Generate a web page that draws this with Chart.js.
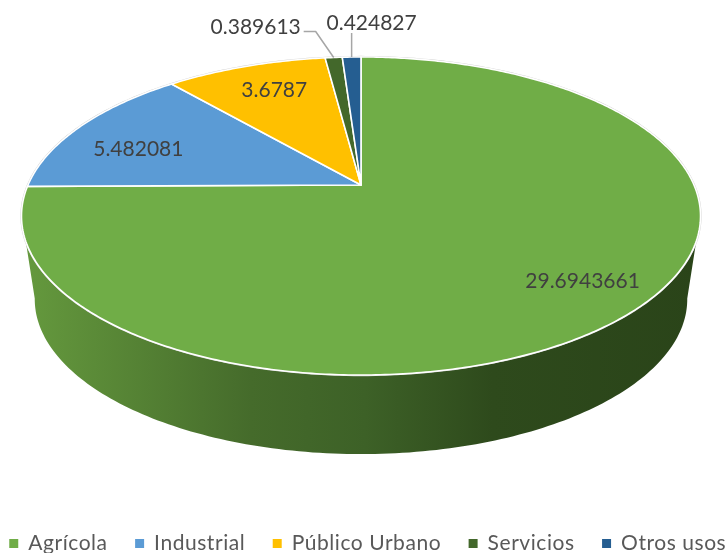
<!DOCTYPE html>
<html>
<head>
<meta charset="utf-8">
<title>Usos del agua</title>
<style>
  html, body { margin: 0; padding: 0; background: #fff; overflow: hidden; }
  #wrap { position: relative; width: 726px; height: 553px; }
</style>
<script src="https://cdn.jsdelivr.net/npm/chart.js@4"></script>
</head>
<body>
<div id="wrap"><canvas id="pieChart"></canvas></div>
<script>
const categories = ['Agrícola', 'Industrial', 'Público Urbano', 'Servicios', 'Otros usos'];
const values = [29.6943661, 5.482081, 3.6787, 0.389613, 0.424827];
const valueLabels = ['29.6943661', '5.482081', '3.6787', '0.389613', '0.424827'];
const sliceColors = ['#70ad47', '#5b9bd5', '#ffc000', '#43682b', '#255e91'];

// perspective of the tilted disc, the apex is not the middle of the ellipse
const tilt = -0.195;
const topFace = { x: 361, y: 185, a: 333, b: 153 };
const bottomFace = { x: 361, y: 269, a: 320, b: 149 };

// where the value labels sit: fraction of the radius + nudge, or outside with a leader
const labelSpots = [
  { frac: 0.82, dx: 3, dy: -3 },
  { frac: 0.78, dx: 0, dy: 11 },
  { frac: 0.72, dx: 0, dy: -6 },
  { frac: 1, dx: -78, dy: -30, leader: [[-18, -26], [-30, -26]] },
  { frac: 1, dx: 20, dy: -34, leader: [[0, -24]] }
];

function project(face, angle, frac) {
  const u = Math.cos(angle) * frac;
  const v = Math.sin(angle) * frac;
  const w = 1 + tilt * v;
  return [face.x + face.a * u / w, face.y + face.b * v / w];
}

function sideGradient(ctx) {
  const g = ctx.createLinearGradient(30, 0, 700, 0);
  g.addColorStop(0, '#64983d');
  g.addColorStop(0.33, '#456b2b');
  g.addColorStop(0.5, '#3d6127');
  g.addColorStop(0.69, '#2e4a1c');
  g.addColorStop(1, '#2a4419');
  return g;
}

const pie3d = {
  id: 'pie3d',
  beforeLayout(chart) {
    // legend text in the reference is spaced out
    chart.ctx.letterSpacing = '0.55px';
  },
  beforeDraw(chart) {
    chart.ctx.letterSpacing = '0.55px';
  },
  beforeDatasetsDraw(chart) {
    const ctx = chart.ctx;
    const arcs = chart.getDatasetMeta(0).data;
    const rad = Math.PI / 180;

    // wall under the disc, only the front shows
    ctx.save();
    ctx.letterSpacing = '0px';
    ctx.beginPath();
    let p = project(topFace, 160 * rad, 1);
    ctx.moveTo(p[0], p[1]);
    for (let d = 169; d >= 11; d--) {
      p = project(bottomFace, d * rad, 1);
      ctx.lineTo(p[0], p[1]);
    }
    p = project(topFace, 20 * rad, 1);
    ctx.lineTo(p[0], p[1]);
    ctx.closePath();
    ctx.fillStyle = sideGradient(ctx);
    ctx.fill();

    // soft grey rim around the disc
    ctx.beginPath();
    for (let d = 0; d <= 360; d++) {
      p = project(topFace, d * rad, 1);
      ctx.lineTo(p[0], p[1]);
    }
    ctx.closePath();
    ctx.strokeStyle = '#cfcfcf';
    ctx.lineWidth = 2.2;
    ctx.stroke();

    // top face, angles come from the arcs chart.js laid out
    arcs.forEach((arc, i) => {
      const c = project(topFace, 0, 0);
      ctx.beginPath();
      ctx.moveTo(c[0], c[1]);
      const steps = Math.max(4, Math.ceil((arc.endAngle - arc.startAngle) * 90));
      for (let s = 0; s <= steps; s++) {
        const a = arc.startAngle + (arc.endAngle - arc.startAngle) * s / steps;
        const q = project(topFace, a, 1);
        ctx.lineTo(q[0], q[1]);
      }
      ctx.closePath();
      ctx.fillStyle = sliceColors[i];
      ctx.fill();
      ctx.strokeStyle = '#ffffff';
      ctx.lineWidth = 1.6;
      ctx.lineJoin = 'round';
      ctx.stroke();
    });

    // value labels
    ctx.font = '21px Lato';
    ctx.textAlign = 'center';
    ctx.textBaseline = 'middle';
    arcs.forEach((arc, i) => {
      const spot = labelSpots[i];
      const mid = (arc.startAngle + arc.endAngle) / 2;
      const q = project(topFace, mid, spot.frac);
      if (spot.leader) {
        ctx.beginPath();
        ctx.moveTo(q[0], q[1]);
        spot.leader.forEach(l => ctx.lineTo(q[0] + l[0], q[1] + l[1]));
        ctx.strokeStyle = '#a6a6a6';
        ctx.lineWidth = 1.5;
        ctx.stroke();
      }
      ctx.fillStyle = '#404040';
      ctx.fillText(valueLabels[i], q[0] + spot.dx, q[1] + spot.dy);
    });
    ctx.restore();
    return false; // default round arcs are replaced by the drawing above
  }
};

new Chart(document.getElementById('pieChart').getContext('2d'), {
  type: 'pie',
  data: {
    labels: categories,
    datasets: [{ data: values, backgroundColor: sliceColors, borderWidth: 0 }]
  },
  plugins: [pie3d],
  options: {
    responsive: true,
    maintainAspectRatio: false,
    animation: false,
    layout: { padding: { bottom: -11, left: -30, right: -40 } },
    plugins: {
      tooltip: { enabled: false },
      legend: {
        position: 'bottom',
        labels: {
          usePointStyle: true,
          pointStyle: 'rect',
          boxWidth: 8,
          boxHeight: 9,
          padding: 28,
          color: '#595959',
          font: { family: 'Lato', size: 21 }
        }
      }
    }
  }
});
</script>
</body>
</html>
